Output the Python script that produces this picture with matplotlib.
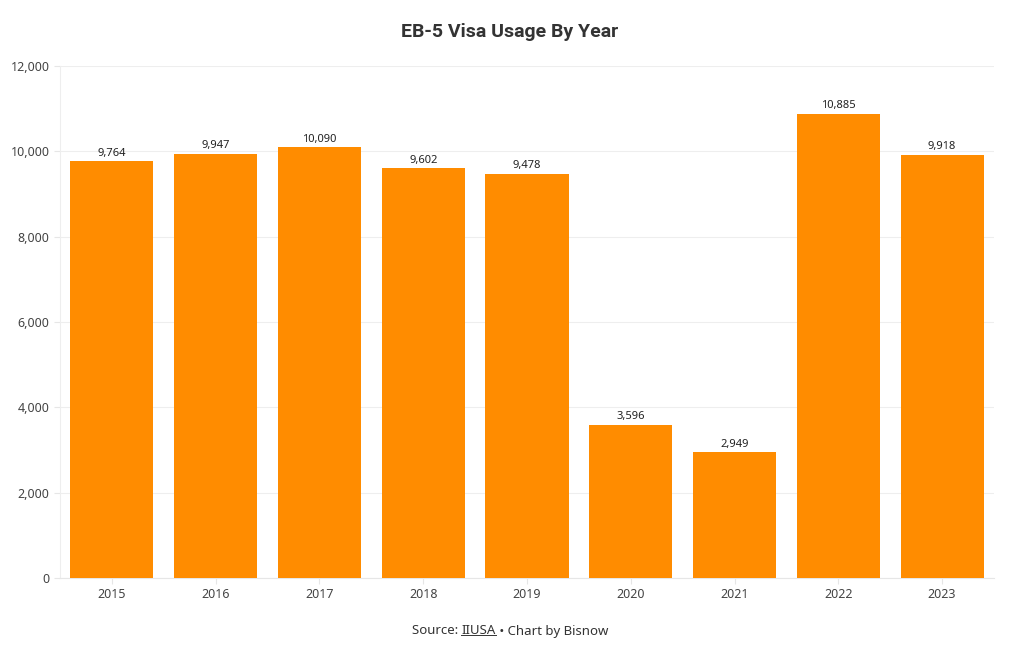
import matplotlib
matplotlib.use("Agg")
import matplotlib.pyplot as plt
from matplotlib.lines import Line2D

years = ["2015", "2016", "2017", "2018", "2019", "2020", "2021", "2022", "2023"]
visas = [9764, 9947, 10090, 9602, 9478, 3596, 2949, 10885, 9918]
y_ticks = [0, 2000, 4000, 6000, 8000, 10000, 12000]

plt.rcParams['font.family'] = ['Noto Sans', 'DejaVu Sans']

fig = plt.figure(figsize=(10.2, 6.5), dpi=100)
ax = fig.add_axes([60 / 1020, 1 - 578 / 650, 934 / 1020, 512 / 650])

x = range(len(years))
bars = ax.bar(x, visas, width=0.8, color="#FF8C00", zorder=3)
for xi, v in zip(x, visas):
    ax.text(xi, v + 60, f"{v:,}", ha="center", va="bottom", fontsize=8, color="#222222")

ax.set_xlim(-0.5, len(years) - 0.5)
ax.set_ylim(0, 12000)
ax.set_xticks(list(x))
ax.set_xticklabels(years)
ax.set_yticks(y_ticks)
ax.set_yticklabels([f"{t:,}" for t in y_ticks])
ax.grid(axis="y", color="#eeeeee", linewidth=0.8, zorder=0)
for s in ["top", "right"]:
    ax.spines[s].set_visible(False)
ax.spines["left"].set_color("#eeeeee")
ax.spines["bottom"].set_color("#e6e6e6")
ax.tick_params(axis="both", colors="#e6e6e6", labelcolor="#444444", labelsize=9, length=4)
ax.tick_params(axis="x", pad=3)

fig.text(0.5, 1 - 32 / 650, "EB-5 Visa Usage By Year", ha="center", va="center",
         fontsize=14, fontweight="bold", color="#333333", family="Roboto")

# footer with underlined source link
fig.canvas.draw()
r = fig.canvas.get_renderer()
y_src = 1 - 631 / 650
t1 = fig.text(0, y_src, "Source: ", fontsize=9.5, color="#333333", va="center")
t2 = fig.text(0, y_src, "IIUSA", fontsize=9.5, color="#333333", va="center")
t3 = fig.text(0, y_src, " \u2022 Chart by Bisnow", fontsize=9.5, color="#333333", va="center")
w = [t.get_window_extent(r).width for t in (t1, t2, t3)]
start = (1020 - sum(w)) / 2
pos = start
for t, wi in zip((t1, t2, t3), w):
    t.set_x(pos / 1020)
    pos += wi
bb = t2.get_window_extent(r)
uy = (bb.y0 + 2.5) / 650
fig.add_artist(Line2D([bb.x0 / 1020, bb.x1 / 1020], [uy, uy], color="#333333", linewidth=0.7))

fig.savefig("out.png", dpi=100, facecolor="white")
